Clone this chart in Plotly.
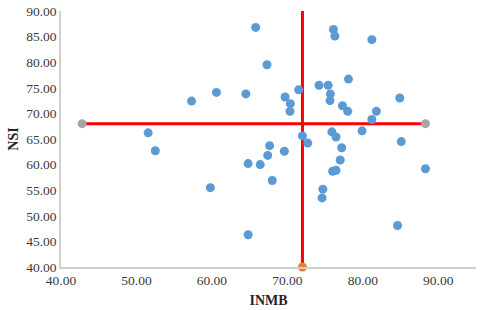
import plotly.graph_objects as go

inmb = [65.8, 67.3, 57.3, 60.6, 64.5, 69.7, 70.4, 70.35, 71.5, 74.2, 75.4, 76.1, 76.3,
        81.2, 78.1, 75.7, 75.65, 77.3, 78.0, 81.8, 81.2, 84.9, 72.0, 72.7, 75.9, 76.45,
        79.9, 85.1, 77.2, 77.0, 76.0, 76.45, 74.7, 74.6, 88.3, 84.6, 67.65, 67.4, 69.6,
        64.8, 66.4, 68.0, 64.8, 51.55, 52.5, 59.8]
nsi = [86.8, 79.5, 72.4, 74.1, 73.8, 73.2, 71.9, 70.4, 74.6, 75.5, 75.5, 86.4, 85.1,
       84.4, 76.7, 73.8, 72.5, 71.5, 70.4, 70.4, 68.8, 73.0, 65.6, 64.2, 66.4, 65.4,
       66.6, 64.5, 63.3, 60.9, 58.7, 58.9, 55.2, 53.5, 59.2, 48.1, 63.7, 61.8, 62.6,
       60.2, 60.0, 56.9, 46.3, 66.2, 62.7, 55.5]

h_line_x = [42.8, 88.3]
h_line_y = [68.0, 68.0]
v_line_x = [72.0, 72.0]
v_line_y = [40.0, 90.0]

fig = go.Figure()
fig.add_trace(go.Scatter(x=h_line_x, y=h_line_y, mode="lines+markers",
                         line=dict(color="#FF0000", width=3),
                         marker=dict(color="#A5A5A5", size=9), cliponaxis=False))
fig.add_trace(go.Scatter(x=v_line_x, y=v_line_y, mode="lines",
                         line=dict(color="#FF0000", width=3), cliponaxis=False))
fig.add_trace(go.Scatter(x=[v_line_x[0]], y=[v_line_y[0]], mode="markers",
                         marker=dict(color="#ED7D31", size=9), cliponaxis=False))
fig.add_trace(go.Scatter(x=inmb, y=nsi, mode="markers",
                         marker=dict(color="#5B9BD5", size=9), cliponaxis=False))

font = dict(family="Liberation Serif, Times New Roman, serif", size=13.5, color="#3A3A3A")
fig.update_layout(
    width=480, height=310,
    margin=dict(l=61, r=4, t=8, b=43),
    paper_bgcolor="white", plot_bgcolor="white",
    showlegend=False,
    font=font,
    xaxis=dict(range=[40, 95], dtick=10, tick0=40, tickformat=".2f",
               showgrid=False, zeroline=False, showline=True, linecolor="#D0D0D0",
               linewidth=1.5, ticks="", tickfont=font,
               title=dict(text="<b>INMB</b>", font=dict(family="Liberation Serif", size=14, color="#262626"), standoff=8)),
    yaxis=dict(range=[40, 90], dtick=5, tick0=40, tickformat=".2f",
               showgrid=False, zeroline=False, showline=True, linecolor="#D0D0D0",
               linewidth=1.5, ticks="", tickfont=font,
               title=dict(text="<b>NSI</b>", font=dict(family="Liberation Serif", size=14, color="#262626"), standoff=4)),
)
fig.write_html("out.html", config={"displayModeBar": False},
               post_script="document.body.style.margin='0';document.body.style.padding='0';")
